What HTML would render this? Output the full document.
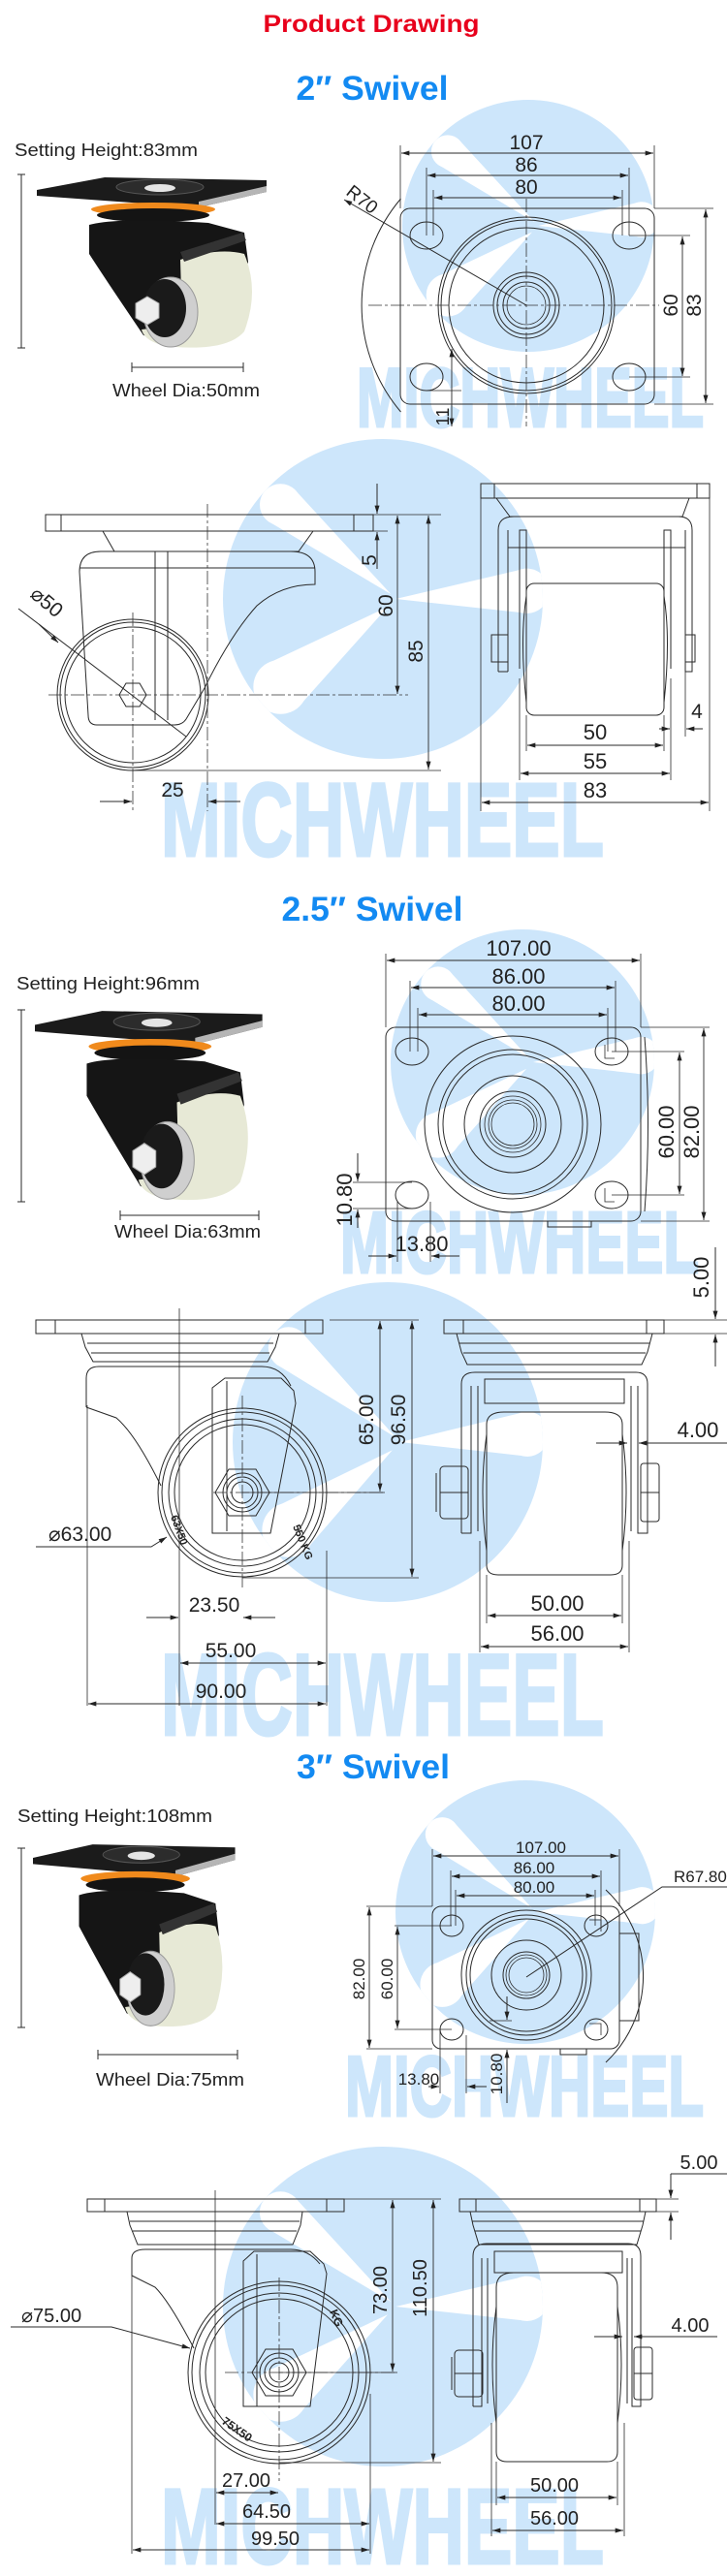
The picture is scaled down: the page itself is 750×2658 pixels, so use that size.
<!DOCTYPE html>
<html><head><meta charset="utf-8"><style>
html,body{margin:0;padding:0;background:#fff;}
svg{display:block;}
.l{stroke:#2a2a2a;stroke-width:1;fill:none;}
.t{stroke:#2a2a2a;stroke-width:0.8;fill:none;}
.c{stroke:#333;stroke-width:0.8;fill:none;stroke-dasharray:14 3 3 3;}
.d{stroke:#2a2a2a;stroke-width:0.9;fill:none;marker-start:url(#a);marker-end:url(#a);}
.x{fill:#222;font-family:"Liberation Sans",sans-serif;}
.wm{fill:#cde6fb;stroke:#cde6fb;stroke-width:3;font-family:"Liberation Sans",sans-serif;font-weight:bold;}
</style></head><body>
<svg width="750" height="2658" viewBox="0 0 750 2658" xmlns="http://www.w3.org/2000/svg">
<defs>
<marker id="a" viewBox="0 0 10 6" refX="10" refY="3" markerWidth="9" markerHeight="5" orient="auto-start-reverse" markerUnits="userSpaceOnUse"><path d="M0 0L10 3L0 6z" fill="#222"/></marker>
<clipPath id="cc"><circle cx="0" cy="0" r="100"/></clipPath>
<symbol id="logo" viewBox="-100 -100 200 200" preserveAspectRatio="none">
<circle cx="0" cy="0" r="100" fill="#cde6fb"/>
<g fill="#fff" clip-path="url(#cc)">
<polygon points="5,-3 -55.8,-69.1 -72.2,-48.9"/><circle cx="-64" cy="-59" r="13"/>
<polygon points="3,5 -53.8,68.6 -74.2,41.4"/><circle cx="-64" cy="55" r="17"/>
<polygon points="8,0 90.8,9 89.2,-19"/><circle cx="90" cy="-5" r="14"/>
</g>
</symbol>
<g id="caster">
<polygon points="38,196 108,183 275,186 275,198 205,214 38,202" fill="#1b1b1b"/>
<polygon points="205,208 275,192 275,198 205,214" fill="#b5b5b5"/>
<ellipse cx="165" cy="193" rx="45" ry="8" fill="#2c2c2c" stroke="#555"/>
<ellipse cx="165" cy="194" rx="16" ry="4" fill="#e4e4e4"/>
<ellipse cx="158" cy="216" rx="64" ry="7" fill="#f08a1c"/>
<ellipse cx="158" cy="222" rx="58" ry="7" fill="#141414"/>
<path d="M92 232 Q120 224 215 230 L252 240 L256 270 L250 300 L195 268 L188 335 L170 350 L148 346 Q110 290 92 262 Z" fill="#151515"/>
<path d="M186 268 Q225 255 252 262 Q268 300 252 342 Q235 362 180 358 Q150 355 146 340 L188 335 Z" fill="#e7e9d6"/>
<ellipse cx="176" cy="322" rx="28" ry="36" fill="#cfcfcf" stroke="#999"/>
<ellipse cx="170" cy="318" rx="22" ry="30" fill="#1a1a1a"/>
<polygon points="152,306 164,313 164,328 152,335 140,328 140,313" fill="#eee" stroke="#aaa"/>
<path d="M186 260 L250 240 L254 248 L190 270 Z" fill="#333"/>
</g>
</defs>

<!-- Titles -->
<text x="383" y="33" text-anchor="middle" font-family="Liberation Sans,sans-serif" font-weight="bold" font-size="25" fill="#e8001c" textLength="223" lengthAdjust="spacingAndGlyphs">Product Drawing</text>
<text x="384" y="103" text-anchor="middle" font-family="Liberation Sans,sans-serif" font-weight="bold" font-size="35" fill="#138af2" textLength="157" lengthAdjust="spacingAndGlyphs">2″ Swivel</text>
<text x="384" y="950" text-anchor="middle" font-family="Liberation Sans,sans-serif" font-weight="bold" font-size="35" fill="#138af2" textLength="187" lengthAdjust="spacingAndGlyphs">2.5″ Swivel</text>
<text x="385" y="1835" text-anchor="middle" font-family="Liberation Sans,sans-serif" font-weight="bold" font-size="35" fill="#138af2" textLength="158" lengthAdjust="spacingAndGlyphs">3″ Swivel</text>

<!-- Watermarks -->
<use href="#logo" x="415" y="103" width="260" height="260"/>
<text class="wm" x="368" y="440" font-size="86" textLength="358" lengthAdjust="spacingAndGlyphs">MICHWHEEL</text>
<use href="#logo" x="230" y="453" width="330" height="330"/>
<text class="wm" x="166" y="883" font-size="108" textLength="457" lengthAdjust="spacingAndGlyphs">MICHWHEEL</text>
<use href="#logo" x="403" y="959" width="272" height="274"/>
<text class="wm" x="351" y="1313" font-size="90" textLength="370" lengthAdjust="spacingAndGlyphs">MICHWHEEL</text>
<use href="#logo" x="240" y="1323" width="320" height="330"/>
<text class="wm" x="166" y="1790" font-size="120" textLength="457" lengthAdjust="spacingAndGlyphs">MICHWHEEL</text>
<use href="#logo" x="408" y="1837" width="268" height="272"/>
<text class="wm" x="356" y="2183" font-size="88" textLength="370" lengthAdjust="spacingAndGlyphs">MICHWHEEL</text>
<use href="#logo" x="230" y="2215" width="330" height="330"/>
<text class="wm" x="166" y="2645" font-size="110" textLength="457" lengthAdjust="spacingAndGlyphs">MICHWHEEL</text>

<!-- ===== Section 1 photo ===== -->
<text class="x" x="15" y="161" font-size="18" textLength="189" lengthAdjust="spacingAndGlyphs">Setting Height:83mm</text>
<path class="l" d="M22 180V359M18 180H26M18 359H26"/>
<use href="#caster"/>
<path class="l" d="M136 379H251M136 374V384M251 374V384"/>
<text class="x" x="116" y="409" font-size="18" textLength="152" lengthAdjust="spacingAndGlyphs">Wheel Dia:50mm</text>

<!-- Section 1 top view -->
<g>
<rect class="l" x="413" y="215" width="262" height="202" rx="10"/>
<ellipse class="l" cx="440" cy="243" rx="17" ry="14"/><ellipse class="l" cx="649" cy="243" rx="17" ry="14"/>
<ellipse class="l" cx="440" cy="389" rx="17" ry="14"/><ellipse class="l" cx="649" cy="389" rx="17" ry="14"/>
<circle class="l" cx="543" cy="315" r="91"/><circle class="l" cx="543" cy="315" r="88"/><circle class="l" cx="543" cy="315" r="80"/>
<circle class="l" cx="543" cy="315" r="34"/><circle class="l" cx="543" cy="315" r="30"/><circle class="l" cx="543" cy="315" r="24"/><circle class="t" cx="543" cy="315" r="20"/>
<path class="c" d="M543 205V440M380 315H680"/>
<path class="t" d="M413 150V215M675 150V215M440 173V243M649 173V243M447 196V243M642 196V243"/>
<path class="d" d="M414 158H674"/><text class="x" x="543" y="154" font-size="21" text-anchor="middle">107</text>
<path class="d" d="M441 181H648"/><text class="x" x="543" y="177" font-size="21" text-anchor="middle">86</text>
<path class="d" d="M448 204H641"/><text class="x" x="543" y="200" font-size="21" text-anchor="middle">80</text>
<path class="t" d="M649 243H712M649 389H712M675 215H736M675 417H736"/>
<path class="d" d="M704 244V388"/><path class="d" d="M728 216V416"/>
<text class="x" font-size="21" transform="translate(699 315) rotate(-90)" text-anchor="middle">60</text>
<text class="x" font-size="21" transform="translate(723 315) rotate(-90)" text-anchor="middle">83</text>
<path class="l" d="M413.5 205A170 170 0 0 0 413.5 425"/>
<path class="l" d="M355 206L543 315" marker-start="url(#a)"/>
<text class="x" font-size="19" transform="translate(356 200) rotate(38)">R70</text>
<path class="d" d="M466 360V440"/><path class="t" d="M440 403H476"/>
<text class="x" font-size="18" transform="translate(463 430) rotate(-90)" text-anchor="middle">11</text>
</g>

<!-- Section 1 side view -->
<g>
<rect class="l" x="47" y="531" width="338" height="17"/>
<path class="l" d="M63 531V548M365 531V548"/>
<path class="l" d="M106 548L118 569H308L323 548"/>
<circle class="l" cx="137" cy="717" r="78"/><circle class="l" cx="137" cy="717" r="75"/><circle class="l" cx="137" cy="717" r="70"/>
<path class="l" d="M82 590Q82 569 104 569H300Q325 569 325 590V603Q290 603 265 625Q238 655 211 710L192 742Q188 748 180 748H100Q91 748 91 738Z"/>
<path class="l" d="M82 586H325M160 569V743M173 569V743"/>
<polygon class="l" points="151,717 144,729 130,729 123,717 130,705 144,705"/>
<path class="c" d="M137 632V837M50 717H421M214 520V837"/>
<path class="t" d="M385 531H455M385 548H400M137 795H455"/>
<path class="l" d="M389 499V530" marker-end="url(#a)"/><path class="l" d="M389 587V549" marker-end="url(#a)"/>
<text class="x" font-size="21" transform="translate(388 578) rotate(-90)" text-anchor="middle">5</text>
<path class="d" d="M410 532V716"/><text class="x" font-size="21" transform="translate(405 625) rotate(-90)" text-anchor="middle">60</text>
<path class="d" d="M442 532V794"/><text class="x" font-size="21" transform="translate(436 672) rotate(-90)" text-anchor="middle">85</text>
<path class="l" d="M19 628L192 760"/><path class="l" d="M40 644L60 663" marker-end="url(#a)"/>
<text class="x" font-size="21" transform="translate(30 615) rotate(40)">⌀50</text>
<path class="l" d="M103 827H136" marker-end="url(#a)"/><path class="l" d="M248 827H215" marker-end="url(#a)"/>
<text class="x" x="178" y="822" font-size="21" text-anchor="middle">25</text>
</g>

<!-- Section 1 front view -->
<g>
<rect class="l" x="496" y="499" width="236" height="15"/>
<path class="l" d="M510 499V514M719 499V514M512 514L526 533H704L711 514"/>
<path class="l" d="M514 693V547Q514 533 530 533H700Q714 533 714 547V693H707V547M524 693V547M514 693H524M707 693H714"/>
<path class="l" d="M536 690V547H543V690M685 690V547H692V690M524 565H707"/>
<rect class="l" x="543" y="602" width="142" height="136" rx="8"/>
<path class="l" d="M543 615Q536 660 543 725M685 615Q692 660 685 725"/>
<rect class="l" x="507" y="655" width="17" height="28"/><rect class="l" x="707" y="655" width="10" height="28"/>
<path class="t" d="M543 738V775M685 738V775M536 700V805M692 700V805M496 514V837M732 514V837M707 693V760"/>
<path class="l" d="M680 752H691" marker-end="url(#a)"/><path class="l" d="M725 752H708" marker-end="url(#a)"/>
<text class="x" x="719" y="741" font-size="21" text-anchor="middle">4</text>
<path class="d" d="M544 769H684"/><text class="x" x="614" y="763" font-size="22" text-anchor="middle">50</text>
<path class="d" d="M537 798H691"/><text class="x" x="614" y="793" font-size="22" text-anchor="middle">55</text>
<path class="d" d="M497 828H731"/><text class="x" x="614" y="823" font-size="22" text-anchor="middle">83</text>
</g>

<!-- ===== Section 2 photo ===== -->
<text class="x" x="17" y="1021" font-size="18" textLength="189" lengthAdjust="spacingAndGlyphs">Setting Height:96mm</text>
<path class="l" d="M22 1042V1240M18 1042H26M18 1240H26"/>
<g transform="translate(36 1042) scale(0.99 1.11) translate(-38 -182)"><use href="#caster"/></g>
<path class="l" d="M124 1254H267M124 1249V1259M267 1249V1259"/>
<text class="x" x="118" y="1277" font-size="18" textLength="151" lengthAdjust="spacingAndGlyphs">Wheel Dia:63mm</text>

<!-- Section 2 top view -->
<g>
<rect class="l" x="398" y="1060" width="263" height="200" rx="10"/>
<ellipse class="l" cx="425" cy="1085" rx="17" ry="14"/><ellipse class="l" cx="631" cy="1085" rx="17" ry="14"/>
<ellipse class="l" cx="425" cy="1233" rx="17" ry="14"/><ellipse class="l" cx="631" cy="1233" rx="17" ry="14"/>
<path class="t" d="M624 1078V1092H634M624 1226V1240H634"/>
<circle class="l" cx="529" cy="1160" r="91"/><circle class="l" cx="529" cy="1160" r="77"/><circle class="l" cx="529" cy="1160" r="72"/>
<circle class="l" cx="529" cy="1160" r="50"/><circle class="l" cx="529" cy="1160" r="34"/><circle class="t" cx="529" cy="1160" r="29"/><circle class="t" cx="529" cy="1160" r="25"/><circle class="t" cx="529" cy="1160" r="22"/>
<path class="l" d="M665 1070Q672 1160 665 1250M565 1260V1266H610V1260"/>
<path class="t" d="M398 984V1060M661 984V1060M423 1012V1085M635 1012V1085M431 1040V1085M627 1040V1085"/>
<path class="d" d="M399 991H660"/><text class="x" x="535" y="986" font-size="22" text-anchor="middle">107.00</text>
<path class="d" d="M424 1019H634"/><text class="x" x="535" y="1015" font-size="22" text-anchor="middle">86.00</text>
<path class="d" d="M432 1047H626"/><text class="x" x="535" y="1043" font-size="22" text-anchor="middle">80.00</text>
<path class="t" d="M631 1085H706M631 1233H706M661 1060H732M661 1260H732"/>
<path class="d" d="M701 1086V1232"/><path class="d" d="M726 1061V1259"/>
<text class="x" font-size="22" transform="translate(695 1168) rotate(-90)" text-anchor="middle">60.00</text>
<text class="x" font-size="22" transform="translate(721 1168) rotate(-90)" text-anchor="middle">82.00</text>
<path class="t" d="M364 1220H425M364 1247H425"/>
<path class="l" d="M369 1190V1219" marker-end="url(#a)"/><path class="l" d="M369 1267V1248" marker-end="url(#a)"/>
<text class="x" font-size="22" transform="translate(363 1238) rotate(-90)" text-anchor="middle">10.80</text>
<path class="t" d="M410 1240V1302M444 1240V1302"/>
<path class="l" d="M380 1296H409" marker-end="url(#a)"/><path class="l" d="M474 1296H445" marker-end="url(#a)"/>
<text class="x" x="435" y="1291" font-size="22" text-anchor="middle">13.80</text>
</g>

<!-- Section 2 side view -->
<g>
<rect class="l" x="37" y="1362" width="296" height="14"/>
<path class="l" d="M57 1362V1376M315 1362V1376"/>
<path class="l" d="M84 1376L88 1390L96 1405H276L284 1390L288 1376M90 1386H282M94 1396H278"/>
<circle class="l" cx="250" cy="1540" r="87"/><circle class="l" cx="250" cy="1540" r="83"/><circle class="l" cx="250" cy="1540" r="76"/><circle class="l" cx="250" cy="1540" r="70"/>
<path class="l" d="M89 1452V1422Q89 1410 102 1410H270Q290 1410 300 1430M89 1452L120 1463Q140 1480 166 1533"/>
<path class="l" d="M219 1582V1432L232 1422H290L303 1435L305 1448L279 1582ZM234 1425V1580"/>
<polygon class="l" points="278,1540 264,1564 236,1564 222,1540 236,1516 264,1516"/>
<circle class="l" cx="250" cy="1540" r="20"/><circle class="l" cx="250" cy="1540" r="16"/><circle class="l" cx="250" cy="1540" r="11"/>
<text class="x" font-size="11" font-weight="bold" transform="translate(302 1575) rotate(68)">550 KG</text>
<text class="x" font-size="11" font-weight="bold" transform="translate(176 1565) rotate(70)">63X50</text>
<path class="c" d="M250 1440V1640M220 1540H397"/>
<path class="t" d="M185 1350V1760M337 1600V1760M90 1450V1760M340 1362H432M250 1540H397M250 1628H432"/>
<path class="d" d="M392 1363V1539"/><text class="x" font-size="21" transform="translate(385 1465) rotate(-90)" text-anchor="middle">65.00</text>
<path class="d" d="M425 1363V1627"/><text class="x" font-size="21" transform="translate(418 1465) rotate(-90)" text-anchor="middle">96.50</text>
<text class="x" x="50" y="1590" font-size="21">⌀63.00</text>
<path class="l" d="M37 1596H156L172 1586" marker-end="url(#a)"/>
<path class="l" d="M151 1669H184" marker-end="url(#a)"/><path class="l" d="M284 1669H251" marker-end="url(#a)"/>
<text class="x" x="221" y="1663" font-size="21" text-anchor="middle">23.50</text>
<path class="d" d="M186 1716H336"/><text class="x" x="238" y="1710" font-size="21" text-anchor="middle">55.00</text>
<path class="d" d="M91 1758H336"/><text class="x" x="228" y="1752" font-size="21" text-anchor="middle">90.00</text>
</g>

<!-- Section 2 front view -->
<g>
<rect class="l" x="458" y="1362" width="227" height="14"/>
<path class="l" d="M478 1362V1376M667 1362V1376M471 1376L476 1395L482 1408H662L668 1395L673 1376M474 1386H670M478 1396H666"/>
<path class="l" d="M476 1582V1428Q476 1416 490 1416H656Q668 1416 668 1428V1582H658V1430M486 1430V1582H476"/>
<path class="l" d="M500 1423H644V1448H500ZM493 1430V1580M651 1430V1580"/>
<path class="l" d="M502 1470Q502 1457 520 1457H624Q642 1457 642 1470V1615Q642 1625 630 1625H514Q502 1625 502 1615Z"/>
<path class="l" d="M502 1480Q494 1540 502 1600M642 1480Q650 1540 642 1600"/>
<rect class="l" x="454" y="1513" width="29" height="54" rx="4"/><path class="l" d="M454 1540H483M450 1520V1560"/>
<rect class="l" x="661" y="1510" width="19" height="60" rx="3"/><path class="l" d="M661 1540H680"/>
<path class="t" d="M502 1625V1675M642 1625V1675M495 1590V1705M649 1590V1705M685 1362H750M685 1376H750"/>
<path class="l" d="M615 1489H647" marker-end="url(#a)"/><path class="l" d="M752 1489H659" marker-end="url(#a)"/>
<text class="x" x="720" y="1483" font-size="22" text-anchor="middle">4.00</text>
<path class="d" d="M503 1667H641"/><text class="x" x="575" y="1662" font-size="22" text-anchor="middle">50.00</text>
<path class="d" d="M496 1699H648"/><text class="x" x="575" y="1693" font-size="22" text-anchor="middle">56.00</text>
<path class="l" d="M738 1287V1361" marker-end="url(#a)"/><path class="l" d="M738 1410V1377" marker-end="url(#a)"/>
<text class="x" font-size="22" transform="translate(731 1318) rotate(-90)" text-anchor="middle">5.00</text>
</g>

<!-- ===== Section 3 photo ===== -->
<text class="x" x="18" y="1880" font-size="18" textLength="201" lengthAdjust="spacingAndGlyphs">Setting Height:108mm</text>
<path class="l" d="M22 1907V2092M18 1907H26M18 2092H26"/>
<g transform="translate(34 1902) scale(0.88 1.07) translate(-38 -182)"><use href="#caster"/></g>
<path class="l" d="M101 2120H245M101 2115V2125M245 2115V2125"/>
<text class="x" x="99" y="2152" font-size="18" textLength="153" lengthAdjust="spacingAndGlyphs">Wheel Dia:75mm</text>

<!-- Section 3 top view -->
<g>
<rect class="l" x="446" y="1967" width="193" height="147" rx="9"/>
<rect class="l" x="639" y="1995" width="20" height="90"/>
<path class="l" d="M578 2114V2120H605V2114"/>
<ellipse class="l" cx="466" cy="1987" rx="12" ry="11"/><ellipse class="l" cx="615" cy="1987" rx="12" ry="11"/>
<ellipse class="l" cx="466" cy="2094" rx="12" ry="11"/><ellipse class="l" cx="615" cy="2094" rx="12" ry="11"/>
<path class="t" d="M608 1981H620V1993M608 2088H620V2100"/>
<circle class="l" cx="543" cy="2038" r="67"/><circle class="l" cx="543" cy="2038" r="62"/><circle class="l" cx="543" cy="2038" r="58"/>
<circle class="l" cx="543" cy="2038" r="36"/><circle class="l" cx="543" cy="2038" r="24"/><circle class="t" cx="543" cy="2038" r="21"/><circle class="t" cx="543" cy="2038" r="18"/>
<path class="l" d="M625 1950A122 122 0 0 1 625 2128"/>
<path class="l" d="M752 1947H683L543 2040"/>
<text class="x" x="695" y="1942" font-size="17">R67.80</text>
<path class="t" d="M446 1908V1967M639 1908V1967M465 1930V1987M620 1930V1987M470 1950V1987M614 1950V1987"/>
<path class="d" d="M447 1915H638"/><text class="x" x="558" y="1912" font-size="17" text-anchor="middle">107.00</text>
<path class="d" d="M466 1936H619"/><text class="x" x="551" y="1933" font-size="17" text-anchor="middle">86.00</text>
<path class="d" d="M471 1956H613"/><text class="x" x="551" y="1953" font-size="17" text-anchor="middle">80.00</text>
<path class="t" d="M378 1967H446M407 1987H466M407 2094H466M378 2114H446"/>
<path class="d" d="M381 1968V2113"/><path class="d" d="M410 1988V2093"/>
<text class="x" font-size="17" transform="translate(376 2042) rotate(-90)" text-anchor="middle">82.00</text>
<text class="x" font-size="17" transform="translate(405 2042) rotate(-90)" text-anchor="middle">60.00</text>
<path class="t" d="M454 2094V2160M481 2100V2160M505 2085H528M500 2114H528"/>
<path class="l" d="M442 2153H453" marker-end="url(#a)"/><path class="l" d="M502 2153H482" marker-end="url(#a)"/>
<text class="x" x="432" y="2151" font-size="17" text-anchor="middle">13.80</text>
<path class="l" d="M523 2060V2084" marker-end="url(#a)"/><path class="l" d="M523 2170V2115" marker-end="url(#a)"/>
<text class="x" font-size="17" transform="translate(518 2140) rotate(-90)" text-anchor="middle">10.80</text>
</g>

<!-- Section 3 side view -->
<g>
<rect class="l" x="90" y="2269" width="265" height="13"/>
<path class="l" d="M108 2269V2282M337 2269V2282"/>
<path class="l" d="M131 2282L134 2296L142 2316H302L310 2296L312 2282M134 2292H309M137 2302H306"/>
<circle class="l" cx="288" cy="2448" r="94"/><circle class="l" cx="288" cy="2448" r="90"/><circle class="l" cx="288" cy="2448" r="82"/><circle class="l" cx="288" cy="2448" r="76"/>
<path class="l" d="M136 2348V2330Q136 2321 150 2321H300Q318 2321 330 2336M136 2348L160 2360Q175 2375 200 2423"/>
<path class="l" d="M251 2483V2333L262 2323H320L334 2336L337 2346L320 2483ZM265 2326V2483"/>
<polygon class="l" points="316,2448 302,2472 274,2472 260,2448 274,2424 302,2424"/>
<circle class="l" cx="288" cy="2448" r="20"/><circle class="l" cx="288" cy="2448" r="15"/><circle class="l" cx="288" cy="2448" r="10"/>
<text class="x" font-size="12" font-weight="bold" transform="translate(340 2385) rotate(68)">KG</text>
<text class="x" font-size="12" font-weight="bold" transform="translate(228 2500) rotate(35)">75X50</text>
<path class="c" d="M288 2350V2560M232 2448H410"/>
<path class="t" d="M136 2348V2635M222 2260V2605M382 2470V2635M355 2269H455M288 2448H410M288 2541H455"/>
<path class="d" d="M405 2270V2447"/><text class="x" font-size="20" transform="translate(399 2363) rotate(-90)" text-anchor="middle">73.00</text>
<path class="d" d="M447 2270V2540"/><text class="x" font-size="20" transform="translate(440 2361) rotate(-90)" text-anchor="middle">110.50</text>
<text class="x" x="22" y="2396" font-size="20">⌀75.00</text>
<path class="l" d="M11 2401H115L196 2423" marker-end="url(#a)"/>
<path class="d" d="M223 2572H287"/><text class="x" x="254" y="2566" font-size="20" text-anchor="middle">27.00</text>
<path class="d" d="M223 2604H381"/><text class="x" x="275" y="2598" font-size="20" text-anchor="middle">64.50</text>
<path class="d" d="M137 2631H381"/><text class="x" x="284" y="2626" font-size="20" text-anchor="middle">99.50</text>
</g>

<!-- Section 3 front view -->
<g>
<rect class="l" x="474" y="2269" width="203" height="13"/>
<path class="l" d="M491 2269V2282M660 2269V2282M485 2282L488 2296L494 2316H657L663 2296L666 2282M487 2292H664M490 2302H661"/>
<path class="l" d="M488 2483V2328Q488 2315 502 2315H648Q661 2315 661 2328V2483H652V2330M497 2330V2483H488"/>
<path class="l" d="M510 2323H642V2345H510ZM503 2330V2480M647 2330V2480"/>
<path class="l" d="M512 2360Q512 2345 530 2345H620Q637 2345 637 2360V2530Q637 2540 626 2540H523Q512 2540 512 2530Z"/>
<path class="l" d="M512 2380Q504 2440 512 2500M637 2380Q645 2440 637 2500"/>
<rect class="l" x="469" y="2425" width="29" height="48" rx="4"/><path class="l" d="M469 2449H498M466 2432V2466"/>
<rect class="l" x="654" y="2422" width="19" height="54" rx="3"/><path class="l" d="M654 2449H673"/>
<path class="t" d="M512 2540V2585M637 2540V2585M507 2500V2617M644 2500V2617M677 2269H700M677 2282H700"/>
<path class="l" d="M613 2411H642" marker-end="url(#a)"/><path class="l" d="M740 2411H654" marker-end="url(#a)"/>
<text class="x" x="712" y="2406" font-size="20" text-anchor="middle">4.00</text>
<path class="d" d="M513 2577H636"/><text class="x" x="572" y="2571" font-size="20" text-anchor="middle">50.00</text>
<path class="d" d="M508 2611H643"/><text class="x" x="572" y="2605" font-size="20" text-anchor="middle">56.00</text>
<path class="l" d="M692 2243H750"/>
<path class="l" d="M692 2243V2268" marker-end="url(#a)"/><path class="l" d="M692 2311V2283" marker-end="url(#a)"/>
<text class="x" x="721" y="2238" font-size="20" text-anchor="middle">5.00</text>
</g>
</svg>
</body></html>
